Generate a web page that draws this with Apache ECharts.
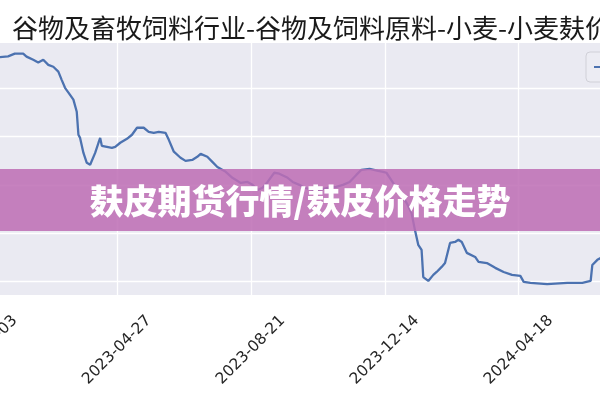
<!DOCTYPE html>
<html>
<head>
<meta charset="utf-8">
<script src="https://cdn.jsdelivr.net/npm/echarts@6/dist/echarts.min.js"></script>
<style>
html,body{margin:0;padding:0;background:#fff;}
#c{width:600px;height:400px;}
</style>
</head>
<body>
<div id="c"></div>
<script>
// trading-day index of each reading (tick every 80 trading days)
const dayIndex = [0,10,15,19,24,26,30,33,36,39,42,45,47,49,50,52,54,56,57,58,60,62,64,67,69,70,71,74,77,79,82,86,89,92,96,99,102,105,109,111,114,118,121,125,128,130,134,137,140,145,149,154,158,161,164,167,170,174,177,182,185,189,192,197,201,206,211,215,219,223,226,231,236,239,241,245,249,253,256,258,260,262,263,264,266,269,271,274,276,279,282,284,286,289,290,294,296,301,306,311,316,321,323,327,337,349,358,363,364,367,369,371];
// wheat bran price (yuan/ton)
const bran = [2730,2728,2731,2742,2742,2730,2717,2706,2717,2696,2688,2668,2634,2601,2605,2572,2552,2502,2407,2394,2332,2291,2283,2332,2374,2394,2361,2357,2353,2357,2374,2390,2407,2436,2436,2419,2415,2419,2415,2386,2337,2312,2299,2303,2316,2328,2316,2295,2274,2254,2229,2208,2212,2200,2179,2188,2212,2250,2246,2229,2212,2200,2188,2179,2179,2188,2192,2200,2212,2241,2262,2266,2258,2254,2250,2208,2167,2126,2084,2014,1952,1931,1819,1815,1803,1828,1840,1861,1877,1960,1964,1973,1964,1919,1923,1902,1882,1877,1857,1840,1828,1824,1799,1795,1790,1795,1795,1803,1869,1890,1898,1900];
const tickLabels = ['2023-01-03','2023-04-27','2023-08-21','2023-12-14','2024-04-18'];
const titleText = '谷物及畜牧饲料行业-谷物及饲料原料-小麦-小麦麸价格';
const seriesName = '小麦麸价格';
const bannerText = '麸皮期货行情/麸皮价格走势';

const chart = echarts.init(document.getElementById('c'));
const points = dayIndex.map((d, i) => [d, bran[i]]);

chart.setOption({
  animation: false,
  backgroundColor: '#ffffff',
  title: {
    text: titleText,
    left: 7,
    top: 10,
    textStyle: {
      fontFamily: 'Noto Sans CJK SC',
      fontSize: 26,
      fontWeight: 'normal',
      color: '#1a1a1a',
      lineHeight: 26
    }
  },
  legend: {
    data: [seriesName],
    left: 586,
    top: 52,
    padding: [8, 7],
    itemWidth: 28,
    itemHeight: 14,
    backgroundColor: 'rgba(236,236,243,0.9)',
    borderColor: '#d0d0d8',
    borderWidth: 1,
    borderRadius: 4,
    textStyle: { fontFamily: 'Noto Sans CJK SC', fontSize: 14, color: '#262626' }
  },
  graphic: [
    {
      type: 'rect',
      z: -10,
      silent: true,
      shape: { x: 0, y: 43, width: 600, height: 252 },
      style: { fill: '#eaeaf2' }
    },
    {
      type: 'rect',
      z: 100,
      silent: true,
      shape: { x: 0, y: 169, width: 600, height: 62 },
      style: { fill: 'rgba(190,110,180,0.86)' }
    },
    {
      type: 'text',
      z: 101,
      silent: true,
      x: 300,
      y: 201,
      style: {
        text: bannerText,
        fill: '#ffffff',
        font: '900 34px "Noto Sans CJK SC"',
        textAlign: 'center',
        textVerticalAlign: 'middle'
      }
    }
  ],
  grid: {
    left: -17,
    right: -52.6,
    top: 39.65,
    bottom: 69.95,
    containLabel: false,
    outerBoundsMode: 'none'
  },
  xAxis: {
    type: 'value',
    min: 0,
    max: 400,
    interval: 80,
    axisLine: { show: false },
    axisTick: { show: false },
    splitLine: { show: true, lineStyle: { color: '#ffffff', width: 1.3 } },
    axisLabel: {
      show: true,
      rotate: 45,
      align: 'center',
      verticalAlign: 'middle',
      margin: 20,
      fontFamily: 'DejaVu Sans',
      fontSize: 15.5,
      color: '#262626',
      hideOverlap: false,
      formatter: function (v) {
        const k = Math.round(v / 80);
        return tickLabels[k] !== undefined ? tickLabels[k] : '';
      }
    }
  },
  yAxis: {
    type: 'value',
    min: 1600,
    max: 2800,
    interval: 200,
    axisLine: { show: false },
    axisTick: { show: false },
    axisLabel: { show: false },
    splitLine: { show: true, lineStyle: { color: '#ffffff', width: 1.3 } }
  },
  series: [
    {
      name: seriesName,
      type: 'line',
      data: points,
      showSymbol: false,
      symbol: 'none',
      lineStyle: { color: '#4c72b0', width: 2.3 },
      itemStyle: { color: '#4c72b0' },
      z: 3
    }
  ]
});
</script>
</body>
</html>
